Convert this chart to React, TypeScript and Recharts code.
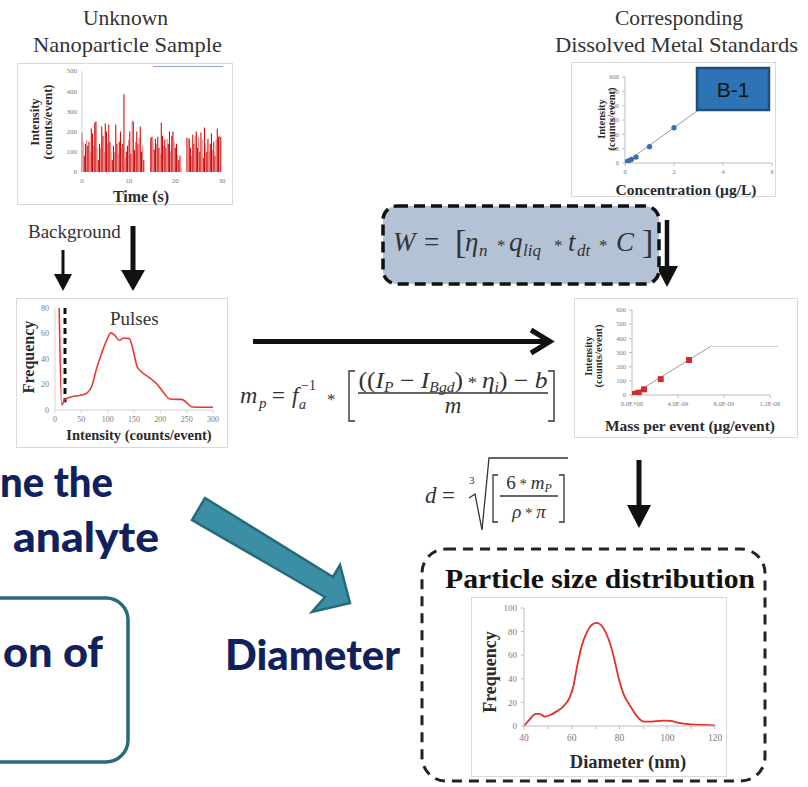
import React from 'react';
import {
  BarChart, Bar, Cell, XAxis, YAxis, LineChart, Line, ComposedChart, Scatter, ZAxis, ReferenceLine,
} from 'recharts';

// --- unknown sample: pulse intensity vs time ---
const timeSec = [
  0, 0.25, 0.5, 0.75, 1, 1.25, 1.5, 1.75, 2, 2.25, 2.5, 2.75, 3, 3.25, 3.5, 3.75,
  4, 4.25, 4.5, 4.75, 5, 5.25, 5.5, 5.75, 6, 6.25, 6.5, 6.75, 7, 7.25, 7.5, 7.75,
  8, 8.25, 8.5, 8.75, 9, 9.25, 9.5, 9.75, 10, 10.25, 10.5, 10.75, 11, 11.25, 11.5, 11.75,
  12, 12.25, 12.5, 12.75, 13, 13.25, 13.5, 13.75, 14, 14.25, 14.5, 14.75, 15, 15.25, 15.5, 15.75,
  16, 16.25, 16.5, 16.75, 17, 17.25, 17.5, 17.75, 18, 18.25, 18.5, 18.75, 19, 19.25, 19.5, 19.75,
  20, 20.25, 20.5, 20.75, 21, 21.25, 21.5, 21.75, 22, 22.25, 22.5, 22.75, 23, 23.25, 23.5, 23.75,
  24, 24.25, 24.5, 24.75, 25, 25.25, 25.5, 25.75, 26, 26.25, 26.5, 26.75, 27, 27.25, 27.5, 27.75,
  28, 28.25, 28.5, 28.75, 29, 29.25, 29.5, 29.75,
];
const pulseIntensity = [
  195, 150, 80, 140, 160, 130, 150, 100, 215, 190, 130, 245, 250, 120, 60, 140,
  120, 225, 180, 100, 240, 200, 140, 235, 150, 100, 60, 130, 100, 235, 140, 90,
  150, 200, 120, 140, 385, 70, 100, 130, 160, 200, 90, 255, 250, 110, 150, 200,
  140, 170, 225, 100, 130, 60, 0, 0, 0, 0, 0, 170, 175, 140, 110, 165,
  140, 175, 120, 90, 245, 180, 130, 160, 120, 165, 140, 200, 100, 180, 200, 150,
  120, 140, 85, 60, 80, 20, 0, 0, 0, 0, 170, 170, 165, 120, 80, 185,
  140, 180, 200, 120, 170, 100, 195, 160, 70, 220, 140, 100, 165, 100, 140, 190,
  110, 150, 80, 160, 215, 175, 180, 175,
];
const pulseTicksX = [0, 10, 20, 30];
const pulseTicksY = [0, 100, 200, 300, 400, 500];

// --- dissolved standards calibration ---
const calConc = [0, 0.03, 0.1, 0.16, 0.26, 0.45, 1, 2];
const calIntensity = [0, 4, 9, 16, 25, 41, 114, 246];
const calTrendConc = [0, 4.5];
const calTrendIntensity = [0, 555];
const calTicksX = [0, 2, 4, 6];
const calTicksY = [0, 100, 200, 300, 400, 500, 600];

// --- pulse histogram ---
const histIntensity = [8, 12.6, 19, 31.6, 50.5, 61, 69.5, 79, 88.4, 98, 106, 113.7, 122, 130.7, 141, 148.4, 156, 164, 177, 192.6, 205, 218, 230.5, 240, 246, 259, 275, 300];
const histFreq = [80, 3.9, 8.3, 10.4, 11.7, 13.5, 18.2, 32.6, 44.3, 54.7, 60.5, 58.6, 54.7, 56.5, 56, 46.9, 33.9, 30, 26, 20.8, 14.3, 8.6, 8.3, 8.3, 7.3, 2.6, 2.1, 2.1];
const histTicksX = [0, 50, 100, 150, 200, 250, 300];
const histTicksY = [0, 20, 40, 60, 80];
const bgCutIntensity = 19;
const bgCutFreq = [80, 6];

// --- mass calibration ---
const massEvent = [0, 0.6e-10, 2e-10, 3.8e-10, 5.8e-10, 1.04e-9, 2.5e-9, 4.96e-9];
const massIntensity = [0, 3, 6, 10, 16, 40, 112, 247];
const massTrendX = [0, 6.9e-9];
const massTrendY = [0, 346];
const massTicksX = [0, 4e-9, 8e-9, 1.2e-8];
const massTicksY = [0, 100, 200, 300, 400, 500, 600];

// --- particle size distribution ---
const diameterNm = [40, 42.4, 44.9, 46.6, 48.7, 50.8, 53.6, 56.5, 59, 60.7, 62, 64.2, 66.3, 69.1, 70.5, 73, 75.4, 77.5, 79.6, 81.8, 84.6, 87.4, 90.2, 92.3, 98.6, 101.5, 104.3, 109.9, 115.5, 120];
const sizeFreq = [0, 5.7, 10.3, 10.3, 8, 9.1, 12.3, 16.6, 23.7, 33.7, 48, 68, 79.4, 86.6, 87.4, 83.7, 73.7, 59.4, 40.9, 26.6, 16.6, 8, 3.7, 3.7, 4.6, 4.3, 2.9, 1.4, 0.9, 0.6];
const sizeTicksX = [40, 50, 60, 70, 80, 90, 100, 110, 120];
const sizeTicksY = [0, 20, 40, 60, 80, 100];

const pulseData = timeSec.map((t, i) => ({ t, v: pulseIntensity[i] }));
const calPoints = calConc.map((x, i) => ({ x, y: calIntensity[i] }));
const calTrend = calTrendConc.map((x, i) => ({ x, y: calTrendIntensity[i] }));
const histData = histIntensity.map((x, i) => ({ x, y: histFreq[i] }));
const massPoints = massEvent.map((x, i) => ({ x, y: massIntensity[i] }));
const massTrend = massTrendX.map((x, i) => ({ x, y: massTrendY[i] }));
const sizeData = diameterNm.map((x, i) => ({ x, y: sizeFreq[i] }));

const SERIF = 'Liberation Serif, Times New Roman, serif';
const tick = (size: number) => ({ fontSize: size, fill: '#7a7a7a', fontFamily: SERIF });
const axisGrey = { stroke: '#bdbdbd' };

const sciTick = (v: number) => {
  const [m, e] = v.toExponential(1).split('e');
  const n = parseInt(e, 10);
  return `${m}E${n < 0 ? '-' : '+'}${String(Math.abs(n)).padStart(2, '0')}`;
};

const abs = (left: number, top: number): React.CSSProperties => ({ position: 'absolute', left, top });

export default function App() {
  const navy = '#10215e';
  return (
    <div style={{ position: 'absolute', left: 0, top: 0, width: 808, height: 787, overflow: 'hidden', background: '#fff' }}>
      {/* time trace */}
      <div style={abs(17, 63)}>
        <BarChart width={216} height={142} data={pulseData} margin={{ top: 8, right: 11, bottom: 19, left: 0 }}>
          <XAxis dataKey="t" type="number" domain={[0, 30]} ticks={pulseTicksX} tick={tick(7)} tickSize={3} tickMargin={3}
            height={14} axisLine={false} tickLine={false} />
          <YAxis type="number" domain={[0, 500]} ticks={pulseTicksY} tick={tick(7)} tickSize={3} tickMargin={2}
            width={65} axisLine={{ stroke: '#d0d0d0' }} tickLine={false} />
          <Bar dataKey="v" barSize={1.8} isAnimationActive={false}>
            {pulseData.map((d, i) => <Cell key={i} fill={i % 3 === 1 ? '#e57b7b' : '#cc0606'} />)}
          </Bar>
        </BarChart>
      </div>

      {/* concentration calibration */}
      <div style={abs(571, 62)}>
        <ComposedChart width={205} height={135} margin={{ top: 15, right: 4, bottom: 20, left: 0 }}>
          <XAxis dataKey="x" type="number" domain={[0, 6]} ticks={calTicksX} tick={tick(6.5)} tickSize={3} tickMargin={3}
            height={14} axisLine={axisGrey} tickLine={axisGrey} allowDataOverflow />
          <YAxis dataKey="y" type="number" domain={[0, 600]} ticks={calTicksY} tick={tick(6.5)} tickSize={3} tickMargin={3}
            width={54} axisLine={axisGrey} tickLine={axisGrey} allowDataOverflow />
          <ZAxis range={[22, 22]} />
          <Line data={calTrend} dataKey="y" stroke="#9c9c9c" strokeWidth={1} dot={false} isAnimationActive={false} />
          <Scatter data={calPoints} fill="#3b6db4" isAnimationActive={false} />
        </ComposedChart>
      </div>

      {/* pulse histogram */}
      <div style={abs(16, 298)}>
        <LineChart width={212} height={150} data={histData} margin={{ top: 10, right: 15, bottom: 24, left: 0 }}>
          <XAxis dataKey="x" type="number" domain={[0, 300]} ticks={histTicksX} tick={tick(8)} tickSize={3} tickMargin={3}
            height={14} axisLine={{ stroke: '#d4d4d4' }} tickLine={{ stroke: '#d4d4d4' }} />
          <YAxis type="number" domain={[0, 80]} ticks={histTicksY} tick={tick(8)} tickSize={3} tickMargin={3}
            width={39} axisLine={{ stroke: '#d4d4d4' }} tickLine={false} allowDataOverflow />
          <ReferenceLine segment={[{ x: bgCutIntensity, y: bgCutFreq[0] }, { x: bgCutIntensity, y: bgCutFreq[1] }]}
            stroke="#111" strokeWidth={3} strokeDasharray="6 4" />
          <Line dataKey="y" type="monotone" stroke="#e8392e" strokeWidth={1.6} dot={false} isAnimationActive={false} />
        </LineChart>
      </div>

      {/* mass calibration */}
      <div style={abs(574, 298)}>
        <ComposedChart width={224} height={140} margin={{ top: 12, right: 28, bottom: 29, left: 0 }}>
          <XAxis dataKey="x" type="number" domain={[0, 1.2e-8]} ticks={massTicksX} tickFormatter={sciTick} tick={tick(6.5)}
            tickSize={3} tickMargin={3} height={14} axisLine={axisGrey} tickLine={axisGrey} allowDataOverflow />
          <YAxis dataKey="y" type="number" domain={[0, 600]} ticks={massTicksY} tick={tick(6.5)} tickSize={3} tickMargin={3}
            width={58} axisLine={axisGrey} tickLine={axisGrey} allowDataOverflow />
          <ZAxis range={[36, 36]} />
          <Line data={massTrend} dataKey="y" stroke="#9c9c9c" strokeWidth={1} dot={false} isAnimationActive={false} />
          <Scatter data={massPoints} shape="square" fill="#d42a2a" isAnimationActive={false} />
        </ComposedChart>
      </div>

      {/* size distribution */}
      <div style={abs(471, 597)}>
        <LineChart width={256} height={180} data={sizeData} margin={{ top: 11, right: 12, bottom: 33, left: 0 }}>
          <XAxis dataKey="x" type="number" domain={[40, 120]} ticks={sizeTicksX} interval={0}
            tickFormatter={(v: number) => (v % 20 === 0 ? String(v) : '')} tick={tick(9.5)} tickSize={3} tickMargin={5}
            height={18} axisLine={axisGrey} tickLine={axisGrey} />
          <YAxis type="number" domain={[0, 100]} ticks={sizeTicksY} tick={tick(9)} tickSize={3} tickMargin={4}
            width={53} axisLine={axisGrey} tickLine={axisGrey} />
          <Line dataKey="y" type="monotone" stroke="#e0302a" strokeWidth={1.8} dot={false} isAnimationActive={false} />
        </LineChart>
      </div>

      <svg width={808} height={787} style={{ position: 'absolute', left: 0, top: 0, pointerEvents: 'none' }}>
        {/* panel frames */}
        <g fill="none" stroke="#dadada" strokeWidth={1}>
          <rect x={17.5} y={63.5} width={215} height={141} />
          <rect x={571.5} y={62.5} width={204} height={134} />
          <rect x={16.5} y={298.5} width={211} height={149} />
          <rect x={574.5} y={298.5} width={223} height={139} />
          <rect x={471.5} y={597.5} width={255} height={179} />
        </g>
        <line x1={153} y1={66.5} x2={223} y2={66.5} stroke="#8ea6d8" strokeWidth={1} />
        <line x1={712} y1={346.5} x2={778} y2={346.5} stroke="#cfcfcf" strokeWidth={1} />

        {/* headings */}
        <g fontFamily={SERIF} fill="#333" fontSize={22} textAnchor="middle">
          <text x={125.5} y={25} textLength={85} lengthAdjust="spacingAndGlyphs">Unknown</text>
          <text x={127.5} y={52} textLength={189} lengthAdjust="spacingAndGlyphs">Nanoparticle Sample</text>
          <text x={679} y={25} textLength={128} lengthAdjust="spacingAndGlyphs">Corresponding</text>
          <text x={676.5} y={52} textLength={243} lengthAdjust="spacingAndGlyphs">Dissolved Metal Standards</text>
        </g>
        <text x={28} y={238} fontFamily={SERIF} fontSize={19} fill="#333">Background</text>
        <text x={110} y={325} fontFamily={SERIF} fontSize={19} fill="#333">Pulses</text>

        {/* axis titles */}
        <g fontFamily={SERIF} fontWeight={700} fill="#2b2b2b" textAnchor="middle">
          <text x={39} y={122} fontSize={12.5} transform="rotate(-90 39 122)">Intensity</text>
          <text x={52} y={122} fontSize={12.5} transform="rotate(-90 52 122)">(counts/event)</text>
          <text x={141} y={202} fontSize={16}>Time (s)</text>

          <text x={605} y={119} fontSize={10.5} transform="rotate(-90 605 119)">Intensity</text>
          <text x={615} y={119} fontSize={10.5} transform="rotate(-90 615 119)">(counts/event)</text>
          <text x={686} y={195} fontSize={15.5}>Concentration (µg/L)</text>

          <text x={34} y={357} fontSize={16} transform="rotate(-90 34 357)">Frequency</text>
          <text x={139} y={440} fontSize={14.5}>Intensity (counts/event)</text>

          <text x={592} y={356} fontSize={10.5} transform="rotate(-90 592 356)">Intensity</text>
          <text x={602} y={356} fontSize={10.5} transform="rotate(-90 602 356)">(counts/event)</text>
          <text x={690} y={431} fontSize={15.5}>Mass per event (µg/event)</text>

          <text x={496} y={672} fontSize={18} transform="rotate(-90 496 672)">Frequency</text>
          <text x={628} y={768} fontSize={18.5}>Diameter (nm)</text>

          <text x={600} y={588} fontSize={28} textLength={310} lengthAdjust="spacingAndGlyphs" fill="#111">Particle size distribution</text>
        </g>

        {/* B-1 tag */}
        <rect x={697} y={68} width={72} height={42} fill="#2e74b5" stroke="#1f4e79" strokeWidth={2.5} />
        <text x={733} y={97} textAnchor="middle" fontFamily="Liberation Sans, Arial, sans-serif" fontSize={21} fill="#111">B-1</text>

        {/* black arrows */}
        <g fill="#111" stroke="#111">
          <line x1={63} y1={250} x2={63} y2={276} strokeWidth={3} />
          <polygon points="54,274 72,274 63,291" stroke="none" />
          <line x1={133} y1={226} x2={133} y2={272} strokeWidth={5} />
          <polygon points="121,270 145,270 133,291" stroke="none" />
          <line x1={667} y1={220} x2={667} y2={268} strokeWidth={4.5} />
          <polygon points="656,266 678,266 667,287" stroke="none" />
          <line x1={639} y1={460} x2={639} y2={508} strokeWidth={5} />
          <polygon points="627,505 651,505 639,528" stroke="none" />
          <line x1={253} y1={341.5} x2={547} y2={341.5} strokeWidth={5} />
          <polyline points="531,330 550,341.5 531,353" fill="none" strokeWidth={5} />
        </g>

        {/* W formula box */}
        <rect x={383} y={206} width={276} height={78} rx={14} fill="#b3c2d5" stroke="#111" strokeWidth={3.5} strokeDasharray="11 6" />
        <g fontFamily={SERIF} fill="#333" fontSize={27}>
          <text x={393} y={251} fontStyle="italic">W</text>
          <text x={424} y={251}>=</text>
          <text x={455} y={253} fontSize={34}>[</text>
          <text x={465} y={251} fontStyle="italic">η</text>
          <text x={479} y={256} fontSize={17} fontStyle="italic">n</text>
          <text x={497} y={251} fontSize={17}>*</text>
          <text x={509} y={251} fontStyle="italic">q</text>
          <text x={523} y={256} fontSize={17} fontStyle="italic">liq</text>
          <text x={554} y={251} fontSize={17}>*</text>
          <text x={568} y={251} fontStyle="italic">t</text>
          <text x={577} y={256} fontSize={17} fontStyle="italic">dt</text>
          <text x={599} y={251} fontSize={17}>*</text>
          <text x={616} y={251} fontStyle="italic">C</text>
          <text x={642} y={253} fontSize={34}>]</text>
        </g>

        {/* mass formula */}
        <g fontFamily={SERIF} fill="#333">
          <text x={240} y={403} fontSize={24} fontStyle="italic">m</text>
          <text x={259} y={408} fontSize={15} fontStyle="italic">p</text>
          <text x={272} y={403} fontSize={23}>=</text>
          <text x={292} y={403} fontSize={23} fontStyle="italic">f</text>
          <text x={301} y={390} fontSize={14}>−1</text>
          <text x={299} y={409} fontSize={14} fontStyle="italic">a</text>
          <text x={327} y={405} fontSize={17}>*</text>
          <text x={453} y={388} fontSize={23} textAnchor="middle" textLength={189} lengthAdjust="spacingAndGlyphs">
            <tspan>((</tspan>
            <tspan fontStyle="italic">I</tspan>
            <tspan fontStyle="italic" fontSize={14} dy={4}>P</tspan>
            <tspan dy={-4}>{' − '}</tspan>
            <tspan fontStyle="italic">I</tspan>
            <tspan fontStyle="italic" fontSize={14} dy={4}>Bgd</tspan>
            <tspan dy={-4}>)</tspan>
            <tspan fontSize={17}>{' * '}</tspan>
            <tspan fontStyle="italic">η</tspan>
            <tspan fontStyle="italic" fontSize={14} dy={4}>i</tspan>
            <tspan dy={-4}>{') −  '}</tspan>
            <tspan fontStyle="italic">b</tspan>
          </text>
          <text x={453} y={413} fontSize={23} fontStyle="italic" textAnchor="middle">m</text>
        </g>
        <g fill="none" stroke="#333" strokeWidth={1.4}>
          <line x1={358} y1={393} x2={548} y2={393} />
          <path d="M355 371 H349 V421 H355" />
          <path d="M548 371 H554 V421 H548" />
        </g>

        {/* diameter formula */}
        <g fontFamily={SERIF} fill="#333">
          <text x={425} y={503} fontSize={23} fontStyle="italic">d</text>
          <text x={442} y={503} fontSize={23}>=</text>
          <text x={469} y={484} fontSize={11}>3</text>
          <text x={529} y={489} fontSize={19} textAnchor="middle">
            <tspan>6</tspan>
            <tspan fontSize={15}>{' * '}</tspan>
            <tspan fontStyle="italic">m</tspan>
            <tspan fontStyle="italic" fontSize={12} dy={3}>P</tspan>
          </text>
          <text x={529} y={518} fontSize={19} textAnchor="middle">
            <tspan fontStyle="italic">ρ</tspan>
            <tspan fontSize={15}>{' * '}</tspan>
            <tspan fontStyle="italic">π</tspan>
          </text>
        </g>
        <g fill="none" stroke="#333" strokeWidth={1.3}>
          <path d="M469 498 L475 494 L482 530 L489 458 L568 458" />
          <path d="M498 475 H493 V522 H498" />
          <path d="M559 475 H564 V522 H559" />
          <line x1={500} y1={496} x2={558} y2={496} />
        </g>

        {/* size distribution frame */}
        <rect x={422} y={549} width={343} height={232} rx={24} fill="none" stroke="#222" strokeWidth={3} strokeDasharray="10 7" />

        {/* left side slide text */}
        <rect x={-30} y={598} width={158} height={164} rx={22} fill="none" stroke="#2b6a7b" strokeWidth={3.5} />
        <polygon points="205,498 333,577 340,565 350,603 312,612 325,597 192,520" fill="#3a8fa5" stroke="#266a7c" strokeWidth={2.5} strokeLinejoin="miter" />
        <g fontFamily="Lato, sans-serif" fontWeight={900} fill={navy} fontSize={42}>
          <text x={0} y={497} textLength={113} lengthAdjust="spacingAndGlyphs">ne the</text>
          <text x={13} y={552} textLength={146} lengthAdjust="spacingAndGlyphs">analyte</text>
          <text x={3} y={667} textLength={100} lengthAdjust="spacingAndGlyphs">on of</text>
          <text x={225} y={670} textLength={175} lengthAdjust="spacingAndGlyphs">Diameter</text>
        </g>
      </svg>
    </div>
  );
}
